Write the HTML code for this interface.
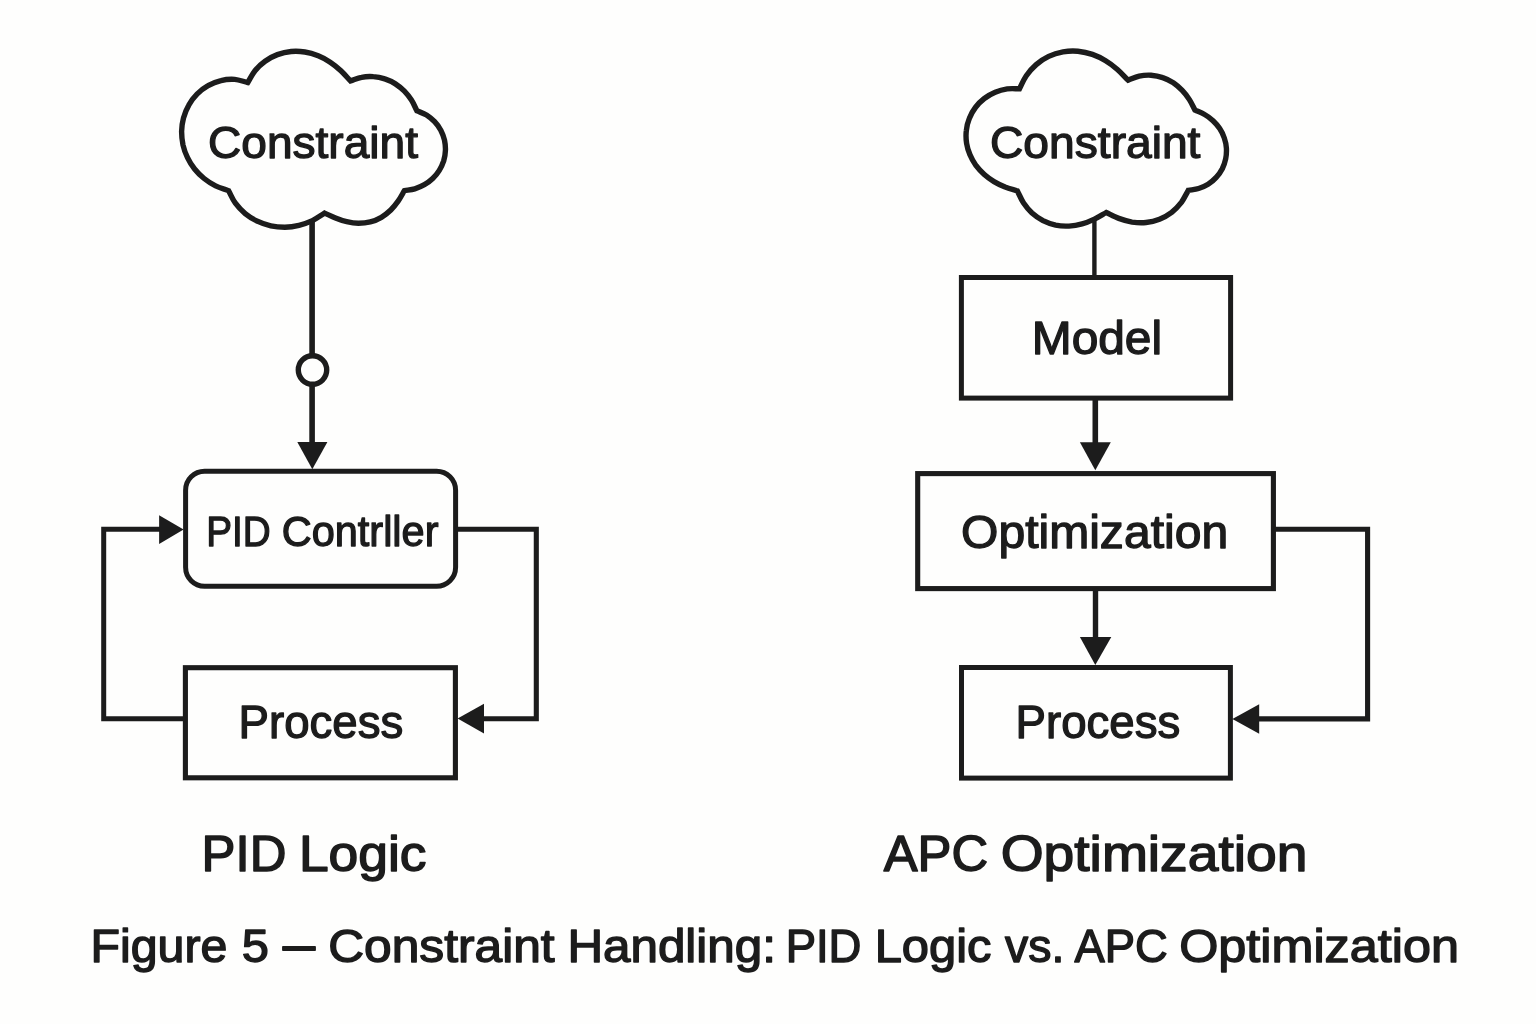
<!DOCTYPE html>
<html lang="en">
<head>
<meta charset="utf-8">
<title>Figure 5 — Constraint Handling: PID Logic vs. APC Optimization</title>
<style>
html,body{margin:0;padding:0;background:#fefefd;}
body{width:1536px;height:1024px;overflow:hidden;}
svg{display:block;filter:grayscale(1);}
svg text{font-family:"Liberation Sans",sans-serif;fill:#1c1c1c;stroke:#1c1c1c;stroke-linejoin:round;}
</style>
</head>
<body>
<svg width="1536" height="1024" viewBox="0 0 1536 1024">

<g fill="none" stroke="#1c1c1c" stroke-width="5" stroke-linejoin="miter">
<!-- left diagram: PID logic -->
<path d="M228.6,190.7 C224.3,189.1 219.7,187.9 215.6,185.9 C211.5,183.8 207.6,181.3 204.1,178.5 C200.6,175.7 197.4,172.5 194.6,169.0 C191.8,165.5 189.4,161.7 187.5,157.7 C185.5,153.7 184.0,149.3 183.0,145.0 C182.1,140.6 181.6,136.0 181.6,131.5 C181.7,127.0 182.3,122.4 183.5,118.0 C184.7,113.6 186.4,109.2 188.7,105.3 C190.9,101.3 193.8,97.4 197.0,94.2 C200.3,90.9 204.1,87.9 208.1,85.7 C212.0,83.4 216.5,81.6 221.0,80.6 C225.4,79.5 230.2,79.1 234.7,79.4 C239.1,79.8 243.4,81.5 247.8,82.5 C250.2,78.6 252.1,74.3 255.0,70.7 C257.8,67.2 261.3,63.9 265.1,61.2 C268.8,58.5 273.1,56.2 277.4,54.6 C281.8,53.0 286.5,51.9 291.1,51.5 C295.6,51.1 300.4,51.3 304.9,52.0 C309.5,52.7 314.0,54.1 318.2,55.8 C322.4,57.5 326.4,59.7 330.2,62.2 C334.0,64.7 337.5,67.6 340.9,70.8 C344.2,73.9 347.3,77.6 350.5,81.0 C354.2,79.8 357.8,78.0 361.6,77.3 C365.4,76.5 369.4,76.3 373.3,76.6 C377.2,76.8 381.1,77.6 384.8,78.9 C388.5,80.1 392.1,81.8 395.4,83.9 C398.6,86.0 401.7,88.5 404.4,91.2 C407.1,94.0 409.5,97.1 411.6,100.3 C413.7,103.6 415.1,107.3 416.9,110.8 C420.1,112.2 423.5,113.2 426.5,115.0 C429.4,116.9 432.2,119.1 434.6,121.7 C437.0,124.2 439.1,127.1 440.8,130.2 C442.4,133.3 443.7,136.7 444.5,140.1 C445.2,143.5 445.6,147.1 445.4,150.6 C445.3,154.1 444.7,157.6 443.7,160.9 C442.6,164.2 441.1,167.5 439.3,170.4 C437.5,173.4 435.2,176.1 432.7,178.5 C430.2,180.9 427.4,183.0 424.4,184.7 C421.4,186.4 418.1,187.8 414.8,188.8 C411.4,189.8 407.9,190.0 404.4,190.6 C402.4,194.0 400.6,197.6 398.3,200.8 C396.0,204.0 393.6,207.2 390.8,210.0 C388.0,212.7 384.8,215.3 381.4,217.3 C378.0,219.3 374.1,220.9 370.3,221.9 C366.5,222.9 362.4,223.3 358.4,223.3 C354.5,223.3 350.5,222.6 346.7,221.7 C342.9,220.9 339.2,219.5 335.5,218.0 C331.9,216.6 328.2,214.7 324.6,213.1 C320.5,215.6 316.7,218.5 312.4,220.6 C308.1,222.6 303.6,224.2 299.0,225.3 C294.4,226.4 289.6,227.1 284.9,227.2 C280.2,227.2 275.4,226.8 270.8,225.8 C266.2,224.8 261.5,223.3 257.3,221.2 C253.0,219.2 248.9,216.6 245.2,213.6 C241.6,210.6 238.2,207.0 235.4,203.2 C232.6,199.4 230.9,194.9 228.6,190.7Z" stroke-width="5.4"/>
<path d="M312.1,219 V355.5 M312.1,384.5 V445" stroke-width="5.6"/>
<circle cx="312.5" cy="370" r="14.2" stroke-width="5.4"/>
<rect x="185.6" y="471.25" width="270" height="115.1" rx="19" ry="19"/>
<rect x="185.4" y="667.7" width="270" height="110.1" stroke-width="5.1"/>
<path d="M185.4,718.75 H103.7 V529.3 H162"/>
<path d="M455.6,529.3 H536.3 V718.7 H482" stroke-width="5.1"/>
<!-- right diagram: APC optimization -->
<path d="M1017.4,190.9 C1013.3,189.6 1009.0,188.5 1005.1,187.0 C1001.2,185.4 997.5,183.7 994.0,181.6 C990.6,179.5 987.3,177.2 984.3,174.5 C981.3,171.9 978.5,168.9 976.1,165.7 C973.8,162.4 971.6,158.9 970.1,155.1 C968.5,151.4 967.2,147.3 966.6,143.3 C966.0,139.2 965.8,134.9 966.3,130.8 C966.7,126.6 967.7,122.4 969.3,118.5 C970.8,114.6 972.9,110.8 975.4,107.5 C977.9,104.1 981.0,101.0 984.3,98.5 C987.6,95.9 991.4,93.8 995.2,92.2 C999.0,90.6 1003.2,89.5 1007.2,88.9 C1011.3,88.4 1015.4,88.8 1019.5,88.8 C1021.8,84.4 1023.5,79.7 1026.3,75.7 C1029.1,71.7 1032.5,67.8 1036.2,64.6 C1039.9,61.3 1044.3,58.5 1048.7,56.4 C1053.2,54.2 1058.2,52.7 1063.0,51.8 C1067.9,51.0 1073.0,50.8 1077.9,51.2 C1082.8,51.7 1087.8,52.8 1092.4,54.4 C1097.0,56.0 1101.4,58.2 1105.6,60.8 C1109.8,63.3 1113.7,66.3 1117.4,69.5 C1121.2,72.8 1124.5,76.6 1128.1,80.2 C1131.8,78.8 1135.4,77.0 1139.2,76.1 C1143.0,75.3 1147.1,75.0 1151.0,75.2 C1154.9,75.5 1159.0,76.3 1162.7,77.6 C1166.4,78.8 1170.0,80.7 1173.3,82.8 C1176.5,85.0 1179.5,87.6 1182.2,90.4 C1184.9,93.2 1187.3,96.3 1189.4,99.6 C1191.5,102.9 1193.1,106.6 1195.0,110.1 C1198.2,111.6 1201.6,112.7 1204.6,114.5 C1207.6,116.2 1210.5,118.3 1213.0,120.7 C1215.5,123.0 1217.8,125.7 1219.7,128.6 C1221.6,131.5 1223.2,134.7 1224.3,138.0 C1225.4,141.2 1226.2,144.8 1226.4,148.2 C1226.6,151.7 1226.4,155.3 1225.7,158.8 C1225.0,162.2 1223.8,165.6 1222.3,168.7 C1220.7,171.8 1218.6,174.9 1216.2,177.4 C1213.9,180.0 1211.1,182.3 1208.1,184.2 C1205.2,186.0 1201.9,187.5 1198.6,188.5 C1195.3,189.6 1191.7,189.7 1188.3,190.3 C1186.0,194.3 1184.1,198.6 1181.4,202.3 C1178.6,205.9 1175.3,209.4 1171.7,212.3 C1168.0,215.1 1163.8,217.5 1159.5,219.2 C1155.3,220.9 1150.6,222.0 1146.0,222.5 C1141.4,223.0 1136.7,222.7 1132.1,222.1 C1127.6,221.4 1123.2,220.0 1118.8,218.4 C1114.5,216.9 1110.4,214.5 1106.2,212.5 C1102.3,214.7 1098.4,217.2 1094.4,219.1 C1090.4,221.0 1086.3,222.8 1082.1,223.9 C1077.9,225.1 1073.4,225.9 1069.0,226.1 C1064.6,226.3 1060.0,226.1 1055.7,225.2 C1051.4,224.2 1047.0,222.7 1043.0,220.7 C1039.1,218.6 1035.3,215.9 1032.0,213.0 C1028.8,210.0 1025.9,206.4 1023.4,202.7 C1021.0,199.1 1019.4,194.8 1017.4,190.9Z" stroke-width="5.4"/>
<path d="M1094.4,219.5 V277" stroke-width="4.4"/>
<rect x="961.4" y="277.5" width="269.2" height="120.6"/>
<path d="M1095.3,398 V445" stroke-width="5.6"/>
<rect x="917.7" y="473.6" width="355.7" height="115" stroke-width="5.1"/>
<path d="M1095.5,588.6 V640" stroke-width="5.4"/>
<rect x="961.5" y="667.5" width="268.9" height="110.6"/>
<path d="M1273.4,529.3 H1367.6 V718.9 H1257" stroke-width="5.1"/>
</g>
<g fill="#1c1c1c" stroke="none">
<polygon points="297.3,441.9 327.4,441.9 312.3,469.3"/>
<polygon points="159.1,515.2 159.1,544 183.6,529.6"/>
<polygon points="484,703.7 484,733.4 457.6,718.6"/>
<polygon points="1079.9,442.2 1110.8,442.2 1095.3,470.3"/>
<polygon points="1079.9,637.1 1111.3,637.1 1095.3,664.9"/>
<polygon points="1259.2,704.2 1259.2,733.8 1232.4,719"/>
</g>

<g>
<text font-size="44.37" stroke-width="1.3"><tspan x="208.05" y="158.41" textLength="209.94" lengthAdjust="spacingAndGlyphs">Constraint</tspan></text>
<text font-size="42.61" stroke-width="1.3"><tspan x="206.16" y="546.35" textLength="64.54" lengthAdjust="spacingAndGlyphs">PID</tspan> <tspan x="281.71" y="546.35" textLength="156.77" lengthAdjust="spacingAndGlyphs">Contrller</tspan></text>
<text font-size="45.94" stroke-width="1.3"><tspan x="238.61" y="737.65" textLength="164.61" lengthAdjust="spacingAndGlyphs">Process</tspan></text>
<text font-size="43.66" stroke-width="1.3"><tspan x="990.04" y="158.41" textLength="210.40" lengthAdjust="spacingAndGlyphs">Constraint</tspan></text>
<text font-size="45.94" stroke-width="1.3"><tspan x="1031.81" y="353.55" textLength="130.32" lengthAdjust="spacingAndGlyphs">Model</tspan></text>
<text font-size="45.70" stroke-width="1.3"><tspan x="961.04" y="547.89" textLength="267.09" lengthAdjust="spacingAndGlyphs">Optimization</tspan></text>
<text font-size="45.94" stroke-width="1.3"><tspan x="1015.61" y="737.65" textLength="164.61" lengthAdjust="spacingAndGlyphs">Process</tspan></text>
<text font-size="50.87" stroke-width="1.5"><tspan x="201.61" y="870.55" textLength="84.78" lengthAdjust="spacingAndGlyphs">PID</tspan> <tspan x="298.93" y="870.55" textLength="127.62" lengthAdjust="spacingAndGlyphs">Logic</tspan></text>
<text font-size="50.87" stroke-width="1.5"><tspan x="883.79" y="870.55" textLength="104.33" lengthAdjust="spacingAndGlyphs">APC</tspan> <tspan x="1000.68" y="870.55" textLength="306.72" lengthAdjust="spacingAndGlyphs">Optimization</tspan></text>
<text font-size="46.09" stroke-width="1.4"><tspan x="90.52" y="961.50" textLength="136.85" lengthAdjust="spacingAndGlyphs">Figure</tspan> <tspan x="241.65" y="961.50" textLength="27.16" lengthAdjust="spacingAndGlyphs">5</tspan> <tspan x="282.65" y="960.10" textLength="32.47" lengthAdjust="spacingAndGlyphs" stroke-width="1.9">—</tspan> <tspan x="328.15" y="961.50" textLength="226.51" lengthAdjust="spacingAndGlyphs">Constraint</tspan> <tspan x="567.41" y="961.50" textLength="208.48" lengthAdjust="spacingAndGlyphs">Handling:</tspan> <tspan x="785.67" y="961.50" textLength="75.75" lengthAdjust="spacingAndGlyphs">PID</tspan> <tspan x="874.65" y="961.50" textLength="116.94" lengthAdjust="spacingAndGlyphs">Logic</tspan> <tspan x="1005.05" y="961.50" textLength="59.28" lengthAdjust="spacingAndGlyphs">vs.</tspan> <tspan x="1074.52" y="961.50" textLength="93.29" lengthAdjust="spacingAndGlyphs">APC</tspan> <tspan x="1179.18" y="961.50" textLength="279.74" lengthAdjust="spacingAndGlyphs">Optimization</tspan></text>
</g>
</svg>
</body>
</html>
